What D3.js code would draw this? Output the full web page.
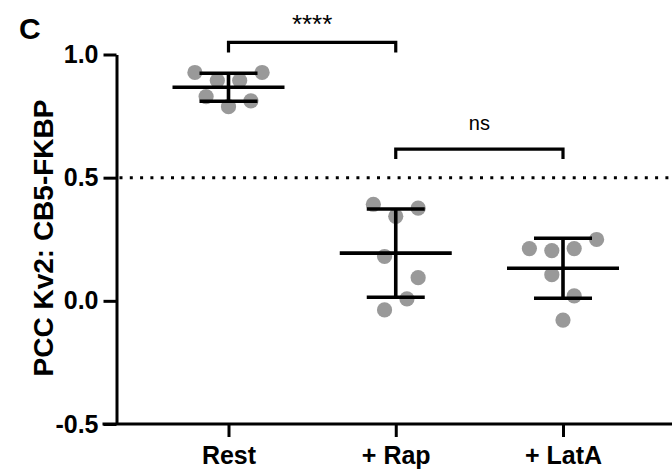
<!DOCTYPE html>
<html>
<head>
<meta charset="utf-8">
<script src="https://cdn.jsdelivr.net/npm/d3@7"></script>
<style>
  html, body { margin: 0; padding: 0; background: #fff; }
  svg { display: block; }
  text { font-family: "Liberation Sans", Arial, sans-serif; fill: #000; }
</style>
</head>
<body>
<div id="chart"></div>
<script>
// ---- Data ----
const categories = ["Rest", "+ Rap", "+ LatA"];
const restValues = [0.927, 0.894, 0.894, 0.927, 0.829, 0.788, 0.812];
const rapValues  = [0.392, 0.376, 0.343, 0.180, 0.094, 0.008, -0.037];
const latAValues = [0.212, 0.204, 0.212, 0.249, 0.106, 0.020, -0.078];
// column-scatter slot of each point (Prism-style spread), same order as values
const restSlots = [-3, -1, 1, 3, -2, 0, 2];
const rapSlots  = [-2, 2, 0, -1, 2, 1, -1];
const latASlots = [-3, -1, 1, 3, -1, 1, 0];
const yTicks = [-0.5, 0.0, 0.5, 1.0];
const yTitle = "PCC Kv2: CB5-FKBP";
const panelLetter = "C";
const thresholdValue = 0.5;
const comparisons = [
  { from: "Rest", to: "+ Rap", label: "****", level: 1.049 },
  { from: "+ Rap", to: "+ LatA", label: "ns", level: 0.616 }
];

const groups = [
  { name: categories[0], values: restValues, slots: restSlots },
  { name: categories[1], values: rapValues,  slots: rapSlots },
  { name: categories[2], values: latAValues, slots: latASlots }
];

// ---- Layout ----
const W = 672, H = 471;
const axisX = 116.5, axisY = 424;
const slotStep = 11.2, pointR = 7.6;

const svg = d3.select("#chart").append("svg")
  .attr("width", W).attr("height", H);

const y = d3.scaleLinear().domain([-0.5, 1.0]).range([424, 54.5]);
const x = d3.scalePoint().domain(categories).range([228.5, 563]);

// threshold dotted line
svg.append("line")
  .attr("x1", axisX + 3).attr("x2", W)
  .attr("y1", y(thresholdValue)).attr("y2", y(thresholdValue))
  .attr("stroke", "#000").attr("stroke-width", 3)
  .attr("stroke-dasharray", "3,7.3").attr("stroke-linecap", "butt");

// points
groups.forEach(g => {
  svg.append("g").selectAll("circle")
    .data(g.values.map((v, i) => ({ v, s: g.slots[i] })))
    .join("circle")
    .attr("cx", d => x(g.name) + d.s * slotStep)
    .attr("cy", d => y(d.v))
    .attr("r", pointR)
    .attr("fill", "#999999");
});

// mean and SD error bars
groups.forEach(g => {
  const m = d3.mean(g.values), sd = d3.deviation(g.values);
  const cx = x(g.name);
  const gg = svg.append("g").attr("stroke", "#000").attr("stroke-width", 3.6);
  gg.append("line").attr("x1", cx).attr("x2", cx).attr("y1", y(m + sd)).attr("y2", y(m - sd));
  gg.append("line").attr("x1", cx - 29).attr("x2", cx + 29).attr("y1", y(m + sd)).attr("y2", y(m + sd));
  gg.append("line").attr("x1", cx - 29).attr("x2", cx + 29).attr("y1", y(m - sd)).attr("y2", y(m - sd));
  gg.append("line").attr("x1", cx - 56).attr("x2", cx + 56).attr("y1", y(m)).attr("y2", y(m));
});

// y axis
const yAxis = svg.append("g")
  .attr("transform", `translate(${axisX},0)`)
  .call(d3.axisLeft(y).tickValues(yTicks).tickFormat(d3.format(".1f"))
    .tickSize(13).tickSizeOuter(0).tickPadding(5));
yAxis.select(".domain").attr("stroke-width", 3);
yAxis.selectAll(".tick line").attr("stroke-width", 3);
yAxis.selectAll(".tick text")
  .attr("font-family", "Liberation Sans, Arial, sans-serif")
  .attr("font-size", 25).attr("font-weight", "bold").attr("fill", "#000")
  .text(d => d < 0 ? "-" + Math.abs(d).toFixed(1) : d.toFixed(1));

// x axis
const xAxis = svg.append("g")
  .attr("transform", `translate(0,${axisY})`)
  .call(d3.axisBottom(x).tickSize(13).tickSizeOuter(0).tickPadding(9));
xAxis.select(".domain").remove();
xAxis.insert("line", ":first-child")
  .attr("x1", axisX - 14).attr("x2", W).attr("y1", 0).attr("y2", 0)
  .attr("stroke", "#000").attr("stroke-width", 3);
xAxis.selectAll(".tick line").attr("stroke-width", 3);
xAxis.selectAll(".tick text")
  .attr("font-family", "Liberation Sans, Arial, sans-serif")
  .attr("font-size", 25).attr("font-weight", "bold").attr("fill", "#000");

// y title
svg.append("text")
  .attr("transform", `translate(53,238) rotate(-90)`)
  .attr("text-anchor", "middle")
  .attr("font-size", 28).attr("font-weight", "bold")
  .text(yTitle);

// panel letter
svg.append("text")
  .attr("x", 19).attr("y", 39)
  .attr("font-size", 30).attr("font-weight", "bold")
  .text(panelLetter);

// significance brackets
comparisons.forEach(c => {
  const x1 = x(c.from), x2 = x(c.to), yy = y(c.level);
  svg.append("path")
    .attr("d", `M${x1},${yy + 10}V${yy}H${x2}V${yy + 10}`)
    .attr("fill", "none").attr("stroke", "#000").attr("stroke-width", 3.2);
  svg.append("text")
    .attr("x", (x1 + x2) / 2)
    .attr("y", c.label === "ns" ? yy - 19 : yy - 9)
    .attr("text-anchor", "middle")
    .attr("font-size", c.label === "ns" ? 20 : 26)
    .text(c.label);
});
</script>
</body>
</html>
